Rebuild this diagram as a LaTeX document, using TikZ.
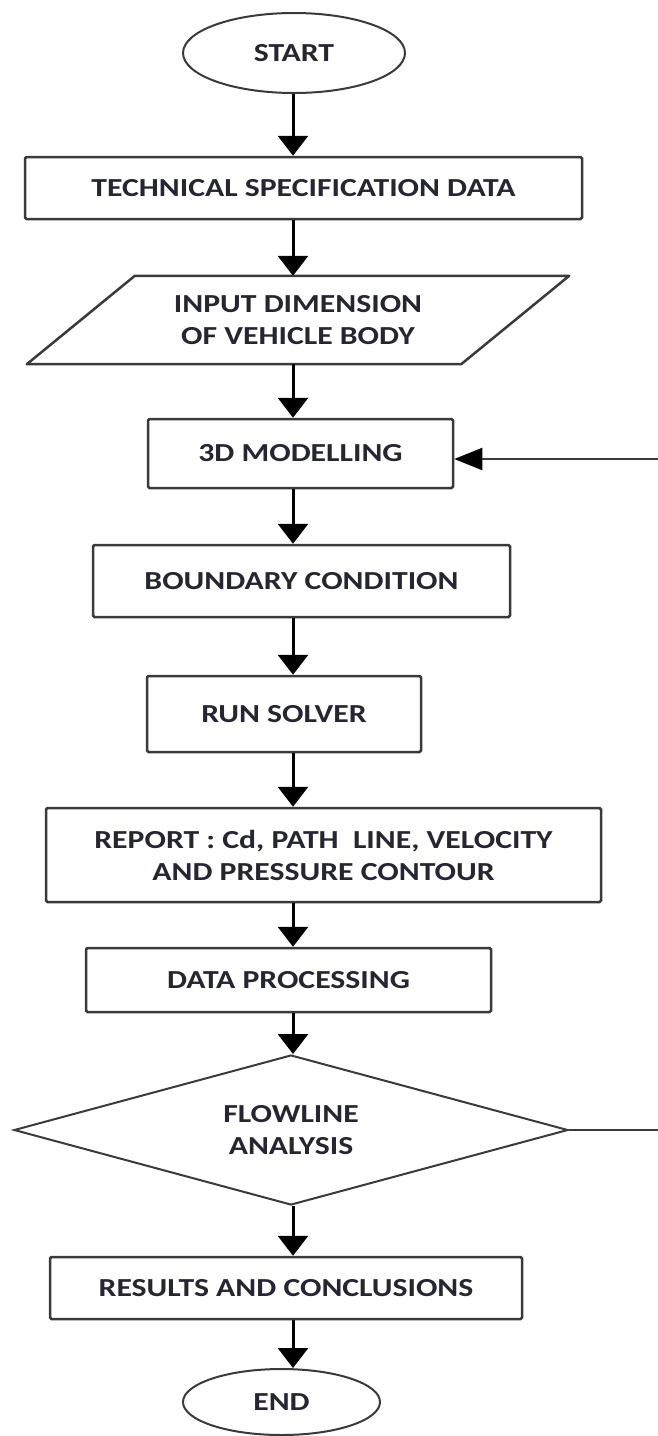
\documentclass[tikz,border=0pt]{standalone}
\usepackage{fontspec}
\setmainfont{Carlito}[FakeStretch=1.22]
\usetikzlibrary{positioning, shapes.geometric, arrows.meta, calc}
\definecolor{inkgray}{RGB}{38,38,50}
\definecolor{edgegray}{RGB}{58,58,58}
\tikzset{chart/.style={font=\fontsize{26}{32}\selectfont\bfseries, text=inkgray, align=center}}

\begin{document}
\begin{tikzpicture}[
		x=1pt, y=-1pt,
		terminal/.style={chart, draw=edgegray, ellipse, line width=2pt, inner sep=0pt},
		process/.style={chart, draw=edgegray, rectangle, rounded corners=1.5pt, line width=2.5pt, inner sep=0pt},
		decision/.style={chart, draw=edgegray, diamond, shape aspect=3.7, line width=2pt, inner sep=0pt},
		flow/.style={-{Triangle[length=20pt, width=30pt]}, line width=3pt},
		loopback/.style={-{Triangle[length=28pt, width=22pt, color=black]}, line width=2pt, draw=edgegray}
		]
		\useasboundingbox (0,0) rectangle (658,1436);
		% main column of the chart
		\coordinate (spine) at (293,0);
		
		\node[terminal, minimum width=222pt, minimum height=80pt] (start) at (294,53) {START};
		\node[process, minimum width=557pt, minimum height=62pt] (spec) at (303.5,188) {TECHNICAL SPECIFICATION DATA};
		\node[chart, minimum width=434pt, minimum height=88pt, inner sep=0pt] (io) at (298,320) {INPUT DIMENSION\\OF VEHICLE BODY};
		\node[process, minimum width=305pt, minimum height=69pt] (model) at (300.5,453.5) {3D MODELLING};
		\node[process, minimum width=417pt, minimum height=72pt] (bound) at (301.5,581) {BOUNDARY CONDITION};
		\node[process, minimum width=274pt, minimum height=76pt] (solver) at (284,714) {RUN SOLVER};
		\node[process, minimum width=555pt, minimum height=94pt] (report) at (323.5,855) {REPORT : Cd, PATH\ \ LINE, VELOCITY\\AND PRESSURE CONTOUR};
		\node[process, minimum width=405pt, minimum height=64pt] (proc) at (288.5,980) {DATA PROCESSING};
		\node[decision, minimum width=554pt, minimum height=150pt] (decide) at (291,1130) {FLOWLINE\\ANALYSIS};
		\node[process, minimum width=472pt, minimum height=62pt] (result) at (286,1288) {RESULTS AND CONCLUSIONS};
		\node[terminal, minimum width=197pt, minimum height=66pt] (finish) at (281.5,1402) {END};
		
		% input block
		\draw[edgegray, line width=2.5pt, line join=round] ($(io.north west)+(54,0)$) -- ($(io.north east)+(54,0)$) -- ($(io.south east)+(-54,0)$) -- ($(io.south west)+(-54,0)$) -- cycle;
		
		\draw[flow] (start.south -| spine) -- (spec.north -| spine);
		\draw[flow] (spec.south -| spine) -- (io.north -| spine);
		\draw[flow] (io.south -| spine) -- (model.north -| spine);
		\draw[flow] (model.south -| spine) -- (bound.north -| spine);
		\draw[flow] (bound.south -| spine) -- (solver.north -| spine);
		\draw[flow] (solver.south -| spine) -- (report.north -| spine);
		\draw[flow] (report.south -| spine) -- (proc.north -| spine);
		\draw[flow] (proc.south -| spine) -- (decide.north -| spine);
		\draw[flow] (decide.south -| spine) -- (result.north -| spine);
		\draw[flow] (result.south -| spine) -- (finish.north -| spine);
		
		% loop back to the modelling step
		\coordinate (fbout) at (660,1130);
		\coordinate (fbin) at (660,459);
		\draw[edgegray, line width=2pt] (decide.east) -- (fbout);
		\draw[loopback] (fbin) -- (model.east |- fbin);
		
	\end{tikzpicture}
\end{document}
